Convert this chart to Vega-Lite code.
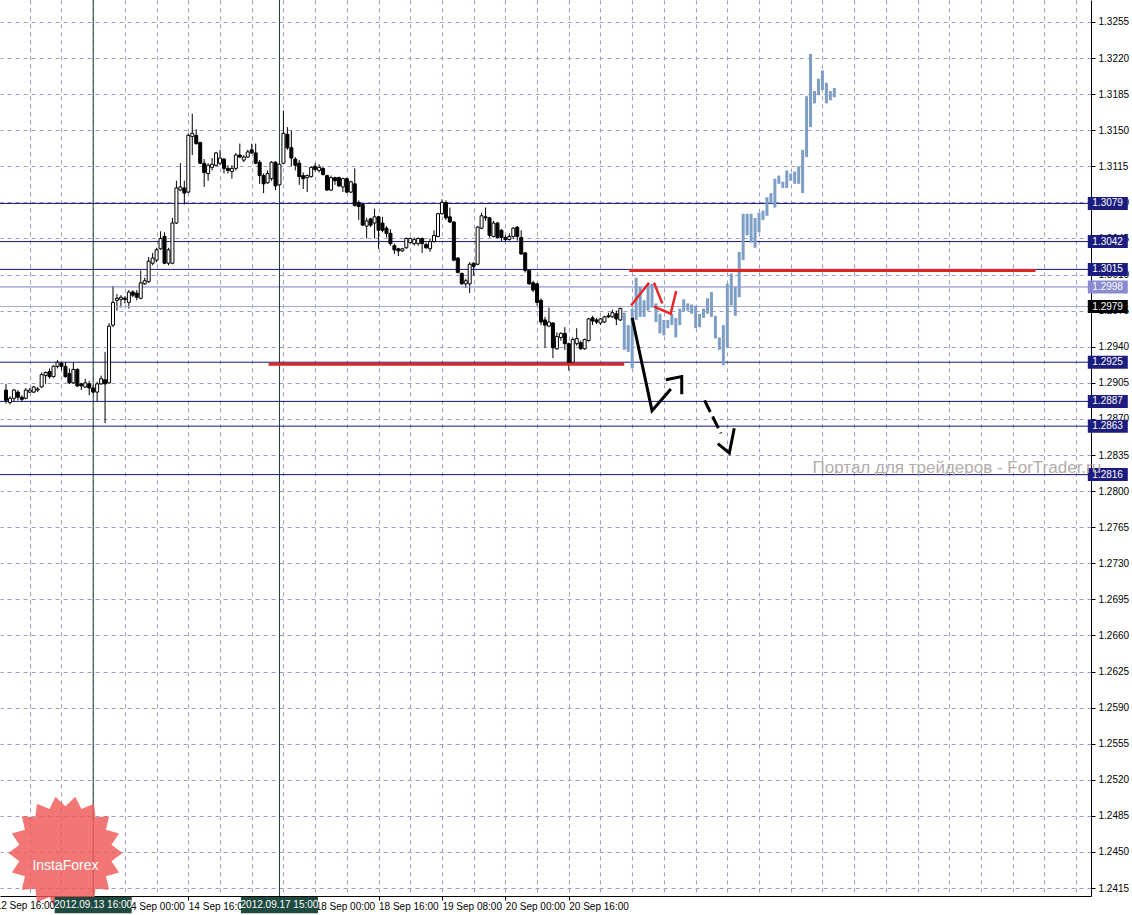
{
"$schema":"https://vega.github.io/schema/vega-lite/v6.json",
"width":1091,"height":896,
"autosize":{"type":"none"},
"padding":{"left":0,"top":0,"right":41,"bottom":19},
"background":"white",
"config":{"view":{"stroke":null},"font":"Liberation Sans"},
"datasets":{
"candles":[
{"i":0,"o":1.2898,"h":1.2904,"l":1.2885,"c":1.2888},
{"i":1,"o":1.2886,"h":1.2892,"l":1.2884,"c":1.2890},
{"i":2,"o":1.2890,"h":1.2899,"l":1.2887,"c":1.2898},
{"i":3,"o":1.2896,"h":1.2898,"l":1.2888,"c":1.2891},
{"i":4,"o":1.2891,"h":1.2893,"l":1.2887,"c":1.2889},
{"i":5,"o":1.2890,"h":1.2900,"l":1.2889,"c":1.2898},
{"i":6,"o":1.2896,"h":1.2900,"l":1.2895,"c":1.2898},
{"i":7,"o":1.2896,"h":1.2902,"l":1.2895,"c":1.2901},
{"i":8,"o":1.2898,"h":1.2901,"l":1.2896,"c":1.2899},
{"i":9,"o":1.2901,"h":1.2915,"l":1.2900,"c":1.2913},
{"i":10,"o":1.2912,"h":1.2916,"l":1.2904,"c":1.2915},
{"i":11,"o":1.2916,"h":1.2919,"l":1.2909,"c":1.2911},
{"i":12,"o":1.2911,"h":1.2922,"l":1.2910,"c":1.2921},
{"i":13,"o":1.2921,"h":1.2927,"l":1.2919,"c":1.2925},
{"i":14,"o":1.2924,"h":1.2925,"l":1.2917,"c":1.2921},
{"i":15,"o":1.2921,"h":1.2925,"l":1.2910,"c":1.2911},
{"i":16,"o":1.2914,"h":1.2919,"l":1.2904,"c":1.2905},
{"i":17,"o":1.2905,"h":1.2925,"l":1.2904,"c":1.2918},
{"i":18,"o":1.2918,"h":1.2919,"l":1.2901,"c":1.2902},
{"i":19,"o":1.2904,"h":1.2905,"l":1.2898,"c":1.2902},
{"i":20,"o":1.2901,"h":1.2909,"l":1.2900,"c":1.2905},
{"i":21,"o":1.2904,"h":1.2907,"l":1.2893,"c":1.2900},
{"i":22,"o":1.2900,"h":1.2903,"l":1.2895,"c":1.2896},
{"i":23,"o":1.2896,"h":1.2906,"l":1.2887,"c":1.2904},
{"i":24,"o":1.2904,"h":1.2912,"l":1.2903,"c":1.2909},
{"i":25,"o":1.2908,"h":1.2935,"l":1.2866,"c":1.2904},
{"i":26,"o":1.2905,"h":1.2963,"l":1.2904,"c":1.2960},
{"i":27,"o":1.2961,"h":1.2999,"l":1.2959,"c":1.2983},
{"i":28,"o":1.2985,"h":1.2991,"l":1.2975,"c":1.2987},
{"i":29,"o":1.2986,"h":1.2990,"l":1.2978,"c":1.2988},
{"i":30,"o":1.2987,"h":1.2989,"l":1.2982,"c":1.2986},
{"i":31,"o":1.2983,"h":1.2995,"l":1.2977,"c":1.2993},
{"i":32,"o":1.2993,"h":1.2995,"l":1.2988,"c":1.2990},
{"i":33,"o":1.2992,"h":1.2995,"l":1.2985,"c":1.2988},
{"i":34,"o":1.2987,"h":1.3014,"l":1.2986,"c":1.3002},
{"i":35,"o":1.3001,"h":1.3007,"l":1.3000,"c":1.3004},
{"i":36,"o":1.3003,"h":1.3027,"l":1.3002,"c":1.3023},
{"i":37,"o":1.3021,"h":1.3031,"l":1.3019,"c":1.3026},
{"i":38,"o":1.3024,"h":1.3036,"l":1.3022,"c":1.3034},
{"i":39,"o":1.3035,"h":1.3052,"l":1.3034,"c":1.3045},
{"i":40,"o":1.3047,"h":1.3051,"l":1.3020,"c":1.3021},
{"i":41,"o":1.3021,"h":1.3036,"l":1.3019,"c":1.3034},
{"i":42,"o":1.3021,"h":1.3065,"l":1.3020,"c":1.3060},
{"i":43,"o":1.3060,"h":1.3101,"l":1.3059,"c":1.3094},
{"i":44,"o":1.3092,"h":1.3118,"l":1.3091,"c":1.3095},
{"i":45,"o":1.3094,"h":1.3101,"l":1.3078,"c":1.3089},
{"i":46,"o":1.3090,"h":1.3147,"l":1.3089,"c":1.3145},
{"i":47,"o":1.3144,"h":1.3166,"l":1.3126,"c":1.3147},
{"i":48,"o":1.3145,"h":1.3151,"l":1.3136,"c":1.3137},
{"i":49,"o":1.3138,"h":1.3139,"l":1.3117,"c":1.3118},
{"i":50,"o":1.3118,"h":1.3122,"l":1.3095,"c":1.3109},
{"i":51,"o":1.3108,"h":1.3118,"l":1.3101,"c":1.3116},
{"i":52,"o":1.3114,"h":1.3123,"l":1.3111,"c":1.3117},
{"i":53,"o":1.3116,"h":1.3129,"l":1.3115,"c":1.3128},
{"i":54,"o":1.3118,"h":1.3131,"l":1.3116,"c":1.3123},
{"i":55,"o":1.3122,"h":1.3123,"l":1.3108,"c":1.3113},
{"i":56,"o":1.3113,"h":1.3116,"l":1.3108,"c":1.3111},
{"i":57,"o":1.3110,"h":1.3116,"l":1.3103,"c":1.3113},
{"i":58,"o":1.3113,"h":1.3128,"l":1.3111,"c":1.3126},
{"i":59,"o":1.3126,"h":1.3137,"l":1.3123,"c":1.3124},
{"i":60,"o":1.3121,"h":1.3126,"l":1.3119,"c":1.3124},
{"i":61,"o":1.3124,"h":1.3131,"l":1.3123,"c":1.3129},
{"i":62,"o":1.3131,"h":1.3137,"l":1.3127,"c":1.3128},
{"i":63,"o":1.3128,"h":1.3137,"l":1.3117,"c":1.3118},
{"i":64,"o":1.3119,"h":1.3121,"l":1.3098,"c":1.3106},
{"i":65,"o":1.3106,"h":1.3108,"l":1.3089,"c":1.3098},
{"i":66,"o":1.3099,"h":1.3111,"l":1.3098,"c":1.3108},
{"i":67,"o":1.3103,"h":1.3120,"l":1.3101,"c":1.3119},
{"i":68,"o":1.3119,"h":1.3120,"l":1.3092,"c":1.3096},
{"i":69,"o":1.3097,"h":1.3119,"l":1.3096,"c":1.3117},
{"i":70,"o":1.3118,"h":1.3169,"l":1.3117,"c":1.3147},
{"i":71,"o":1.3146,"h":1.3153,"l":1.3131,"c":1.3133},
{"i":72,"o":1.3133,"h":1.3150,"l":1.3115,"c":1.3123},
{"i":73,"o":1.3122,"h":1.3124,"l":1.3111,"c":1.3116},
{"i":74,"o":1.3118,"h":1.3121,"l":1.3097,"c":1.3105},
{"i":75,"o":1.3106,"h":1.3109,"l":1.3093,"c":1.3103},
{"i":76,"o":1.3104,"h":1.3107,"l":1.3090,"c":1.3106},
{"i":77,"o":1.3105,"h":1.3115,"l":1.3104,"c":1.3114},
{"i":78,"o":1.3115,"h":1.3118,"l":1.3110,"c":1.3112},
{"i":79,"o":1.3111,"h":1.3117,"l":1.3109,"c":1.3114},
{"i":80,"o":1.3113,"h":1.3114,"l":1.3106,"c":1.3107},
{"i":81,"o":1.3106,"h":1.3107,"l":1.3091,"c":1.3092},
{"i":82,"o":1.3092,"h":1.3106,"l":1.3091,"c":1.3104},
{"i":83,"o":1.3104,"h":1.3105,"l":1.3097,"c":1.3101},
{"i":84,"o":1.3104,"h":1.3105,"l":1.3095,"c":1.3096},
{"i":85,"o":1.3095,"h":1.3104,"l":1.3090,"c":1.3103},
{"i":86,"o":1.3103,"h":1.3104,"l":1.3089,"c":1.3090},
{"i":87,"o":1.3090,"h":1.3101,"l":1.3089,"c":1.3100},
{"i":88,"o":1.3098,"h":1.3113,"l":1.3076,"c":1.3077},
{"i":89,"o":1.3080,"h":1.3082,"l":1.3063,"c":1.3076},
{"i":90,"o":1.3078,"h":1.3079,"l":1.3057,"c":1.3058},
{"i":91,"o":1.3057,"h":1.3065,"l":1.3045,"c":1.3062},
{"i":92,"o":1.3064,"h":1.3065,"l":1.3056,"c":1.3058},
{"i":93,"o":1.3060,"h":1.3074,"l":1.3045,"c":1.3066},
{"i":94,"o":1.3066,"h":1.3067,"l":1.3035,"c":1.3053},
{"i":95,"o":1.3060,"h":1.3066,"l":1.3051,"c":1.3053},
{"i":96,"o":1.3055,"h":1.3057,"l":1.3046,"c":1.3050},
{"i":97,"o":1.3050,"h":1.3054,"l":1.3038,"c":1.3040},
{"i":98,"o":1.3038,"h":1.3040,"l":1.3030,"c":1.3034},
{"i":99,"o":1.3035,"h":1.3036,"l":1.3028,"c":1.3033},
{"i":100,"o":1.3033,"h":1.3036,"l":1.3032,"c":1.3035},
{"i":101,"o":1.3036,"h":1.3046,"l":1.3035,"c":1.3045},
{"i":102,"o":1.3041,"h":1.3046,"l":1.3040,"c":1.3045},
{"i":103,"o":1.3040,"h":1.3046,"l":1.3038,"c":1.3044},
{"i":104,"o":1.3040,"h":1.3046,"l":1.3038,"c":1.3045},
{"i":105,"o":1.3045,"h":1.3046,"l":1.3031,"c":1.3040},
{"i":106,"o":1.3039,"h":1.3041,"l":1.3035,"c":1.3036},
{"i":107,"o":1.3035,"h":1.3045,"l":1.3032,"c":1.3042},
{"i":108,"o":1.3042,"h":1.3053,"l":1.3041,"c":1.3048},
{"i":109,"o":1.3047,"h":1.3070,"l":1.3046,"c":1.3069},
{"i":110,"o":1.3069,"h":1.3083,"l":1.3068,"c":1.3080},
{"i":111,"o":1.3080,"h":1.3082,"l":1.3063,"c":1.3065},
{"i":112,"o":1.3066,"h":1.3075,"l":1.3060,"c":1.3061},
{"i":113,"o":1.3061,"h":1.3062,"l":1.3023,"c":1.3024},
{"i":114,"o":1.3026,"h":1.3027,"l":1.3011,"c":1.3012},
{"i":115,"o":1.3011,"h":1.3012,"l":1.3000,"c":1.3001},
{"i":116,"o":1.3001,"h":1.3006,"l":1.2997,"c":1.3004},
{"i":117,"o":1.3001,"h":1.3022,"l":1.2992,"c":1.3020},
{"i":118,"o":1.3021,"h":1.3022,"l":1.3009,"c":1.3018},
{"i":119,"o":1.3020,"h":1.3057,"l":1.3019,"c":1.3056},
{"i":120,"o":1.3055,"h":1.3070,"l":1.3054,"c":1.3067},
{"i":121,"o":1.3066,"h":1.3075,"l":1.3062,"c":1.3065},
{"i":122,"o":1.3065,"h":1.3066,"l":1.3046,"c":1.3048},
{"i":123,"o":1.3047,"h":1.3062,"l":1.3046,"c":1.3060},
{"i":124,"o":1.3060,"h":1.3061,"l":1.3045,"c":1.3046},
{"i":125,"o":1.3053,"h":1.3054,"l":1.3042,"c":1.3046},
{"i":126,"o":1.3046,"h":1.3048,"l":1.3042,"c":1.3044},
{"i":127,"o":1.3044,"h":1.3050,"l":1.3043,"c":1.3047},
{"i":128,"o":1.3047,"h":1.3056,"l":1.3045,"c":1.3055},
{"i":129,"o":1.3056,"h":1.3057,"l":1.3043,"c":1.3047},
{"i":130,"o":1.3046,"h":1.3053,"l":1.3029,"c":1.3030},
{"i":131,"o":1.3031,"h":1.3032,"l":1.3012,"c":1.3014},
{"i":132,"o":1.3014,"h":1.3015,"l":1.3000,"c":1.3001},
{"i":133,"o":1.3002,"h":1.3004,"l":1.2993,"c":1.2995},
{"i":134,"o":1.3001,"h":1.3002,"l":1.2980,"c":1.2983},
{"i":135,"o":1.2985,"h":1.2987,"l":1.2961,"c":1.2964},
{"i":136,"o":1.2966,"h":1.2969,"l":1.2939,"c":1.2961},
{"i":137,"o":1.2960,"h":1.2978,"l":1.2959,"c":1.2964},
{"i":138,"o":1.2963,"h":1.2964,"l":1.2929,"c":1.2939},
{"i":139,"o":1.2938,"h":1.2954,"l":1.2937,"c":1.2950},
{"i":140,"o":1.2949,"h":1.2954,"l":1.2946,"c":1.2953},
{"i":141,"o":1.2953,"h":1.2959,"l":1.2937,"c":1.2943},
{"i":142,"o":1.2943,"h":1.2944,"l":1.2917,"c":1.2924},
{"i":143,"o":1.2925,"h":1.2949,"l":1.2924,"c":1.2947},
{"i":144,"o":1.2943,"h":1.2958,"l":1.2941,"c":1.2948},
{"i":145,"o":1.2944,"h":1.2946,"l":1.2937,"c":1.2938},
{"i":146,"o":1.2938,"h":1.2948,"l":1.2937,"c":1.2947},
{"i":147,"o":1.2946,"h":1.2968,"l":1.2945,"c":1.2967},
{"i":148,"o":1.2968,"h":1.2970,"l":1.2961,"c":1.2965},
{"i":149,"o":1.2966,"h":1.2968,"l":1.2962,"c":1.2964},
{"i":150,"o":1.2963,"h":1.2968,"l":1.2961,"c":1.2967},
{"i":151,"o":1.2964,"h":1.2970,"l":1.2963,"c":1.2969},
{"i":152,"o":1.2970,"h":1.2973,"l":1.2968,"c":1.2969},
{"i":153,"o":1.2969,"h":1.2976,"l":1.2968,"c":1.2973},
{"i":154,"o":1.2972,"h":1.2975,"l":1.2961,"c":1.2967},
{"i":155,"o":1.2966,"h":1.2978,"l":1.2965,"c":1.2977}
],
"blue":[
{"i":156,"hi":1.2973,"lo":1.2937},{"i":157,"hi":1.2961,"lo":1.2935},{"i":158,"hi":1.2977,"lo":1.2919},
{"i":159,"hi":1.3007,"lo":1.2966},{"i":160,"hi":1.2998,"lo":1.2969},{"i":161,"hi":1.2985,"lo":1.2969},
{"i":162,"hi":1.3001,"lo":1.2975},{"i":163,"hi":1.3001,"lo":1.2978},{"i":164,"hi":1.2982,"lo":1.2964},
{"i":165,"hi":1.2972,"lo":1.2953},{"i":166,"hi":1.2966,"lo":1.2951},{"i":167,"hi":1.2966,"lo":1.2958},
{"i":168,"hi":1.2972,"lo":1.2961},{"i":169,"hi":1.2968,"lo":1.2949},{"i":170,"hi":1.2977,"lo":1.2961},
{"i":171,"hi":1.2986,"lo":1.2974},{"i":172,"hi":1.2982,"lo":1.2975},{"i":173,"hi":1.2981,"lo":1.2972},
{"i":174,"hi":1.2980,"lo":1.2958},{"i":175,"hi":1.2972,"lo":1.2959},{"i":176,"hi":1.2977,"lo":1.2968},
{"i":177,"hi":1.2987,"lo":1.2972},{"i":178,"hi":1.2993,"lo":1.2969},{"i":179,"hi":1.2970,"lo":1.2948},
{"i":180,"hi":1.2949,"lo":1.2937},{"i":181,"hi":1.2961,"lo":1.2922},{"i":182,"hi":1.3001,"lo":1.2939},
{"i":183,"hi":1.3011,"lo":1.2980},{"i":184,"hi":1.2998,"lo":1.2970},{"i":185,"hi":1.3032,"lo":1.2988},
{"i":186,"hi":1.3069,"lo":1.3024},{"i":187,"hi":1.3069,"lo":1.3048},{"i":188,"hi":1.3069,"lo":1.3041},
{"i":189,"hi":1.3065,"lo":1.3036},{"i":190,"hi":1.3070,"lo":1.3051},{"i":191,"hi":1.3072,"lo":1.3063},
{"i":192,"hi":1.3085,"lo":1.3067},{"i":193,"hi":1.3089,"lo":1.3079},{"i":194,"hi":1.3103,"lo":1.3075},
{"i":195,"hi":1.3106,"lo":1.3098},{"i":196,"hi":1.3100,"lo":1.3094},{"i":197,"hi":1.3111,"lo":1.3094},
{"i":198,"hi":1.3108,"lo":1.3101},{"i":199,"hi":1.3110,"lo":1.3098},{"i":200,"hi":1.3115,"lo":1.3098},
{"i":201,"hi":1.3131,"lo":1.3089},{"i":202,"hi":1.3183,"lo":1.3124},{"i":203,"hi":1.3224,"lo":1.3153},
{"i":204,"hi":1.3188,"lo":1.3176},{"i":205,"hi":1.3200,"lo":1.3184},{"i":206,"hi":1.3208,"lo":1.3189},
{"i":207,"hi":1.3196,"lo":1.3176},{"i":208,"hi":1.3188,"lo":1.3179},{"i":209,"hi":1.3191,"lo":1.3182}
],
"hl":[
{"p":1.3079,"kind":"navy"},{"p":1.3042,"kind":"navy"},{"p":1.3015,"kind":"navy"},
{"p":1.2998,"kind":"lilac"},{"p":1.2979,"kind":"gray"},{"p":1.2925,"kind":"navy"},
{"p":1.2887,"kind":"navy"},{"p":1.2863,"kind":"navy"},{"p":1.2816,"kind":"navy"}
],
"cross":[{"i":22,"lab":"2012.09.13 16:00"},{"i":69,"lab":"2012.09.17 15:00"}],
"redlev":[
{"g":"low","s":0,"i":66.25,"p":1.2923},{"g":"low","s":1,"i":156,"p":1.2923},
{"g":"up","s":0,"i":157.25,"p":1.3014},{"g":"up","s":1,"i":259.75,"p":1.3014}
],
"redzig":[
{"g":"a","s":0,"i":157.7,"p":1.2980},{"g":"a","s":1,"i":162.25,"p":1.3002},
{"g":"b","s":0,"i":163.5,"p":1.3002},{"g":"b","s":1,"i":165.6,"p":1.2982},
{"g":"c","s":0,"i":163.5,"p":1.2979},{"g":"c","s":1,"i":167.7,"p":1.2972},{"g":"c","s":2,"i":169.1,"p":1.2994}
],
"blk":[
{"g":"a","s":0,"i":158,"p":1.2968},{"g":"a","s":1,"i":163,"p":1.2878},{"g":"a","s":2,"i":167.75,"p":1.2899},
{"g":"b","s":0,"i":166.5,"p":1.2908},{"g":"b","s":1,"i":170.5,"p":1.2911},{"g":"b","s":2,"i":170.5,"p":1.2894},
{"g":"c","s":0,"i":179.6,"p":1.2846},{"g":"c","s":1,"i":182.5,"p":1.2837},{"g":"c","s":2,"i":183.75,"p":1.2861}
],
"blkdash":[{"s":0,"i":176.25,"p":1.2888},{"s":1,"i":180.4,"p":1.2856}]
},
"layer":[
{"data":{"name":"candles"},"mark":{"type":"rule","color":"#000000","strokeWidth":1},
 "encoding":{
  "x":{"field":"i","type":"quantitative","scale":{"domain":[-0.25,272.5],"nice":false,"zero":false},
   "axis":{"orient":"bottom","title":null,"tickCount":500,"values":[6,14,22,30,38,46,54,62,70,78,86,94,102,110,118,126,134,142,150,158,166,174,182,190,198,206,214,222,230,238,246,254,262,270],
    "labelExpr":"datum.value==30?'14 Sep 00:00':datum.value==46?'14 Sep 16:00':datum.value==78?'18 Sep 00:00':datum.value==94?'18 Sep 16:00':datum.value==110?'19 Sep 08:00':datum.value==126?'20 Sep 00:00':datum.value==142?'20 Sep 16:00':''",
    "labelAlign":"left","labelBaseline":"top","labelPadding":1,"labelFontSize":10,"labelColor":"#000000","labelFont":"Liberation Sans",
    "labelOverlap":false,"labelFlush":false,"labelBound":false,
    "tickSize":4,"tickColor":"#000000","tickOpacity":{"condition":{"test":"(datum.value+2)%16==0 && datum.value<=142","value":1},"value":0},
    "domain":true,"domainColor":"#000000","grid":true,"gridDash":[4,4],"gridColor":"#9a9ac6","gridWidth":1}},
  "y":{"field":"l","type":"quantitative","scale":{"domain":[1.24073,1.32763],"nice":false,"zero":false},
   "axis":{"orient":"right","title":null,"tickCount":500,"values":[1.2415,1.2450,1.2485,1.2520,1.2555,1.2590,1.2625,1.2660,1.2695,1.2730,1.2765,1.2800,1.2835,1.2870,1.2905,1.2940,1.2975,1.3010,1.3045,1.3080,1.3115,1.3150,1.3185,1.3220,1.3255],
    "format":".4f","labelFontSize":10,"labelColor":"#000000","labelFont":"Liberation Sans","labelPadding":3,"labelOverlap":false,"labelFlush":false,
    "tickSize":4,"tickColor":"#000000","domain":true,"domainColor":"#000000","grid":true,"gridDash":[4,4],"gridColor":"#9a9ac6","gridWidth":1}},
  "y2":{"field":"h"}}},
{"data":{"name":"hl"},"mark":{"type":"rule","strokeWidth":1},
 "encoding":{"y":{"field":"p","type":"quantitative","title":null,"scale":{"domain":[1.24073,1.32763],"nice":false,"zero":false}},
  "stroke":{"field":"kind","type":"nominal","scale":{"domain":["navy","lilac","gray"],"range":["#14147c","#7c7cc8","#a4a8d0"]},"legend":null}}},
{"data":{"name":"cross"},"mark":{"type":"rule","color":"#1c3a30","strokeWidth":1},
 "encoding":{"x":{"field":"i","type":"quantitative","title":null,"scale":{"domain":[-0.25,272.5],"nice":false,"zero":false}}}},
{"data":{"name":"candles"},"mark":{"type":"bar","width":3,"stroke":"#000000","strokeWidth":1},
 "encoding":{"x":{"field":"i","type":"quantitative","title":null,"scale":{"domain":[-0.25,272.5],"nice":false,"zero":false}},
  "y":{"field":"o","type":"quantitative","title":null,"scale":{"domain":[1.24073,1.32763],"nice":false,"zero":false}},"y2":{"field":"c"},
  "fill":{"condition":{"test":"datum.c > datum.o","value":"#ffffff"},"value":"#000000"}}},
{"data":{"name":"blue"},"mark":{"type":"bar","width":3,"color":"#7f9ec6"},
 "encoding":{"x":{"field":"i","type":"quantitative","title":null,"scale":{"domain":[-0.25,272.5],"nice":false,"zero":false}},
  "y":{"field":"lo","type":"quantitative","title":null,"scale":{"domain":[1.24073,1.32763],"nice":false,"zero":false}},"y2":{"field":"hi"}}},
{"data":{"name":"redlev"},"mark":{"type":"line","color":"#e02424","strokeWidth":3,"strokeCap":"butt"},
 "encoding":{"x":{"field":"i","type":"quantitative","title":null,"scale":{"domain":[-0.25,272.5],"nice":false,"zero":false}},
  "y":{"field":"p","type":"quantitative","title":null,"scale":{"domain":[1.24073,1.32763],"nice":false,"zero":false}},
  "detail":{"field":"g"},"order":{"field":"s"}}},
{"data":{"name":"redzig"},"mark":{"type":"line","color":"#e82828","strokeWidth":2.5},
 "encoding":{"x":{"field":"i","type":"quantitative","title":null,"scale":{"domain":[-0.25,272.5],"nice":false,"zero":false}},
  "y":{"field":"p","type":"quantitative","title":null,"scale":{"domain":[1.24073,1.32763],"nice":false,"zero":false}},
  "detail":{"field":"g"},"order":{"field":"s"}}},
{"data":{"name":"blk"},"mark":{"type":"line","color":"#000000","strokeWidth":3},
 "encoding":{"x":{"field":"i","type":"quantitative","title":null,"scale":{"domain":[-0.25,272.5],"nice":false,"zero":false}},
  "y":{"field":"p","type":"quantitative","title":null,"scale":{"domain":[1.24073,1.32763],"nice":false,"zero":false}},
  "detail":{"field":"g"},"order":{"field":"s"}}},
{"data":{"name":"blkdash"},"mark":{"type":"line","color":"#000000","strokeWidth":3,"strokeDash":[13,5]},
 "encoding":{"x":{"field":"i","type":"quantitative","title":null,"scale":{"domain":[-0.25,272.5],"nice":false,"zero":false}},
  "y":{"field":"p","type":"quantitative","title":null,"scale":{"domain":[1.24073,1.32763],"nice":false,"zero":false}},
  "order":{"field":"s"}}},
{"data":{"name":"hl"},"mark":{"type":"point","filled":true,"size":1600,"shape":"M-1,-0.325L1,-0.325L1,0.325L-1,0.325Z","opacity":1,"strokeWidth":0},
 "encoding":{"x":{"datum":278.0,"type":"quantitative","title":null,"scale":{"domain":[-0.25,272.5],"nice":false,"zero":false}},
  "y":{"field":"p","type":"quantitative","title":null,"scale":{"domain":[1.24073,1.32763],"nice":false,"zero":false}},
  "fill":{"field":"kind","type":"nominal","scale":{"domain":["navy","lilac","gray"],"range":["#1c1c80","#8a8ad2","#000000"]},"legend":null}}},
{"data":{"name":"hl"},"mark":{"type":"text","align":"left","baseline":"middle","fontSize":10,"font":"Liberation Sans","color":"#ffffff"},
 "encoding":{"x":{"datum":274.1,"type":"quantitative","title":null,"scale":{"domain":[-0.25,272.5],"nice":false,"zero":false}},
  "y":{"field":"p","type":"quantitative","title":null,"scale":{"domain":[1.24073,1.32763],"nice":false,"zero":false}},
  "text":{"field":"p","type":"quantitative","format":".4f"}}},
{"data":{"values":[{"t":"Портал для трейдеров - ForTrader.ru"}]},"mark":{"type":"text","align":"left","baseline":"middle","fontSize":17,"font":"Liberation Sans","color":"#b4abab"},
 "encoding":{"x":{"datum":203.5,"type":"quantitative","title":null,"scale":{"domain":[-0.25,272.5],"nice":false,"zero":false}},
  "y":{"datum":1.2822,"type":"quantitative","title":null,"scale":{"domain":[1.24073,1.32763],"nice":false,"zero":false}},
  "text":{"field":"t"}}},
{"data":{"values":[{"t":"InstaForex"}]},"mark":{"type":"point","filled":true,"size":12996,"color":"#f05858","opacity":0.82,"strokeWidth":0,
  "shape":"M1,0L0.808,0.143L0.94,0.342L0.71,0.41L0.766,0.643L0.527,0.628L0.5,0.866L0.28,0.771L0.174,0.985L0,0.82L-0.174,0.985L-0.28,0.771L-0.5,0.866L-0.527,0.628L-0.766,0.643L-0.71,0.41L-0.94,0.342L-0.808,0.143L-1,0L-0.808,-0.143L-0.94,-0.342L-0.71,-0.41L-0.766,-0.643L-0.527,-0.628L-0.5,-0.866L-0.28,-0.771L-0.174,-0.985L0,-0.82L0.174,-0.985L0.28,-0.771L0.5,-0.866L0.527,-0.628L0.766,-0.643L0.71,-0.41L0.94,-0.342L0.808,-0.143Z"},
 "encoding":{"x":{"datum":15,"type":"quantitative","title":null,"scale":{"domain":[-0.25,272.5],"nice":false,"zero":false}},
  "y":{"datum":1.2449,"type":"quantitative","title":null,"scale":{"domain":[1.24073,1.32763],"nice":false,"zero":false}}}},
{"data":{"values":[{"t":"InstaForex"}]},"mark":{"type":"text","align":"center","baseline":"middle","fontSize":14,"font":"Liberation Sans","color":"#ffffff"},
 "encoding":{"x":{"datum":15,"type":"quantitative","title":null,"scale":{"domain":[-0.25,272.5],"nice":false,"zero":false}},
  "y":{"datum":1.24364,"type":"quantitative","title":null,"scale":{"domain":[1.24073,1.32763],"nice":false,"zero":false}},
  "text":{"field":"t"}}},
{"data":{"values":[{"t":"12 Sep 16:00"}]},"mark":{"type":"text","align":"left","baseline":"top","fontSize":10,"font":"Liberation Sans","color":"#000000"},
 "encoding":{"x":{"datum":-2.6,"type":"quantitative","title":null,"scale":{"domain":[-0.25,272.5],"nice":false,"zero":false}},
  "y":{"datum":1.24024,"type":"quantitative","title":null,"scale":{"domain":[1.24073,1.32763],"nice":false,"zero":false}},
  "text":{"field":"t"}}},
{"data":{"name":"cross"},"mark":{"type":"point","filled":true,"size":5929,"shape":"M-1,-0.21L1,-0.21L1,0.21L-1,0.21Z","color":"#1f4a40","opacity":1,"strokeWidth":0},
 "encoding":{"x":{"field":"i","type":"quantitative","title":null,"scale":{"domain":[-0.25,272.5],"nice":false,"zero":false}},
  "y":{"datum":1.23985,"type":"quantitative","title":null,"scale":{"domain":[1.24073,1.32763],"nice":false,"zero":false}}}},
{"data":{"name":"cross"},"mark":{"type":"text","align":"center","baseline":"middle","fontSize":10,"font":"Liberation Sans","color":"#ffffff"},
 "encoding":{"x":{"field":"i","type":"quantitative","title":null,"scale":{"domain":[-0.25,272.5],"nice":false,"zero":false}},
  "y":{"datum":1.23985,"type":"quantitative","title":null,"scale":{"domain":[1.24073,1.32763],"nice":false,"zero":false}},
  "text":{"field":"lab"}}}
]
}
